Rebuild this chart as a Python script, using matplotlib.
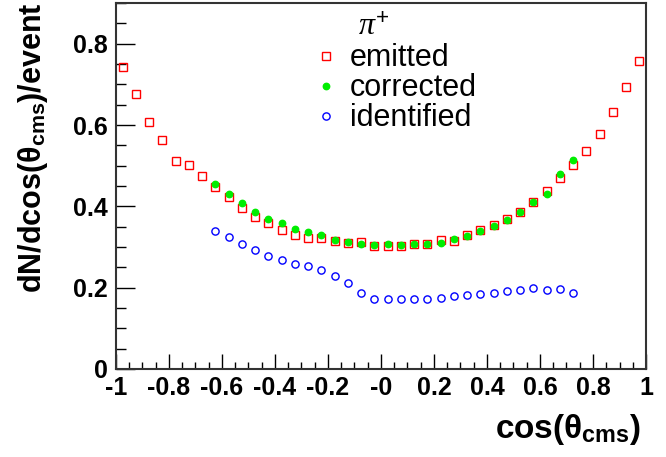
import numpy as np
import matplotlib
matplotlib.use("Agg")
import matplotlib.pyplot as plt
from matplotlib.ticker import MultipleLocator, FuncFormatter

# bin centres of cos(theta_cms), 40 bins of 0.05
bin_centres = np.arange(-0.975, 1.0, 0.05)

emitted = [0.742, 0.677, 0.608, 0.564, 0.512, 0.501, 0.474, 0.447, 0.422, 0.396,
           0.373, 0.359, 0.341, 0.330, 0.321, 0.321, 0.315, 0.311, 0.312, 0.302,
           0.302, 0.302, 0.308, 0.308, 0.317, 0.314, 0.330, 0.342, 0.355, 0.370,
           0.385, 0.410, 0.437, 0.470, 0.501, 0.537, 0.577, 0.633, 0.694, 0.758]

# corrected / identified cover bins 8..35 only
corrected = [0.456, 0.431, 0.409, 0.386, 0.370, 0.358, 0.345, 0.336, 0.329, 0.317,
             0.312, 0.307, 0.304, 0.308, 0.306, 0.308, 0.308, 0.311, 0.320, 0.326,
             0.340, 0.351, 0.366, 0.386, 0.410, 0.431, 0.479, 0.513]
identified = [0.339, 0.324, 0.308, 0.293, 0.278, 0.268, 0.258, 0.253, 0.243, 0.229,
              0.212, 0.186, 0.171, 0.173, 0.172, 0.172, 0.171, 0.175, 0.180, 0.181,
              0.185, 0.188, 0.191, 0.195, 0.198, 0.195, 0.196, 0.186]
first_bin = 7

plt.rcParams["font.family"] = ["Liberation Sans", "DejaVu Sans"]
plt.rcParams["mathtext.fontset"] = "custom"
plt.rcParams["mathtext.rm"] = "Liberation Sans"
plt.rcParams["mathtext.bf"] = "Liberation Sans:bold"
plt.rcParams["mathtext.it"] = "Liberation Serif:italic"

fig = plt.figure(figsize=(6.66, 4.57), dpi=100)
ax = fig.add_axes([0.174, 0.1926, 0.796, 0.8008])

x_sub = bin_centres[first_bin:first_bin + len(corrected)]
ax.plot(bin_centres, emitted, ls="none", marker="s", ms=5.5, mfc="none",
        mec="#ff0000", mew=1.0, label="emitted", zorder=3)
ax.plot(x_sub, corrected, ls="none", marker="o", ms=4.6, mfc="#00ee00",
        mec="#00ee00", label="corrected", zorder=4)
ax.plot(x_sub, identified, ls="none", marker="o", ms=5.2, mfc="none",
        mec="#0000ff", mew=1.0, label="identified", zorder=3)

ax.set_xlim(-1, 1)
ax.set_ylim(0, 0.9)
ax.xaxis.set_major_locator(MultipleLocator(0.2))
ax.xaxis.set_minor_locator(MultipleLocator(0.05))
ax.yaxis.set_major_locator(MultipleLocator(0.2))
ax.yaxis.set_minor_locator(MultipleLocator(0.05))


def tick_fmt(v, pos, zero="0"):
    if abs(v) < 1e-9:
        return zero
    return f"{v:.1f}".rstrip("0").rstrip(".")


ax.xaxis.set_major_formatter(FuncFormatter(lambda v, p: tick_fmt(v, p, "-0")))
ax.yaxis.set_major_formatter(FuncFormatter(tick_fmt))

ax.tick_params(which="both", direction="in", top=False, right=False, width=1.0)
ax.tick_params(which="major", axis="x", length=11, pad=5)
ax.tick_params(which="minor", axis="x", length=5)
ax.tick_params(which="major", axis="y", length=14, pad=6)
ax.tick_params(which="minor", axis="y", length=7)
for lab in ax.get_xticklabels() + ax.get_yticklabels():
    lab.set_fontweight("bold")
    lab.set_fontsize(18)
for sp in ax.spines.values():
    sp.set_linewidth(1.5)
    sp.set_color("#333333")

fig.text(0.962, 0.06, r"cos(θ$_{\mathbf{cms}}$)", ha="right", va="center",
         fontsize=24, fontweight="bold")
fig.text(0.05, 0.995, r"dN/dcos(θ$_{\mathbf{cms}}$)/event", ha="center", va="top",
         rotation=90, fontsize=22, fontweight="bold")

ax.text(0.487, 0.935, r"$\pi^{\mathrm{+}}$", transform=ax.transAxes, ha="center",
        va="center", fontsize=23)

leg = ax.legend(loc="upper left", bbox_to_anchor=(0.381, 0.89), frameon=False,
                fontsize=22, handlelength=0.5, handletextpad=0.55,
                labelspacing=0.0, borderaxespad=0.0, borderpad=0.0,
                markerscale=1.0)

fig.savefig("out.png", dpi=100)
